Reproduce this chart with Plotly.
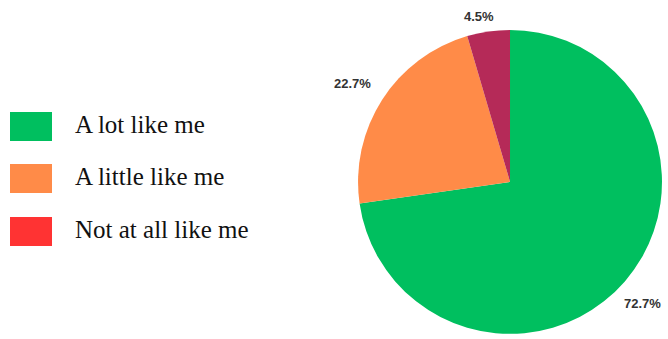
import math
import plotly.graph_objects as go

# Survey responses
categories = ["A lot like me", "A little like me", "Not at all like me"]
counts = [16, 5, 1]
slice_colors = ["#00BF5F", "#FF8B48", "#B52A58"]
legend_colors = ["#00BF5F", "#FF8B48", "#FF3333"]

W, H = 668, 339
pie_x = [0.536, 0.991]
pie_y = [0.015, 0.912]

fig = go.Figure(
    go.Pie(
        labels=categories,
        values=counts,
        sort=False,
        direction="clockwise",
        rotation=0,
        marker=dict(colors=slice_colors, line=dict(width=0)),
        textinfo="none",
        showlegend=False,
        domain=dict(x=pie_x, y=pie_y),
        hoverinfo="label+percent",
    )
)

# Percentage labels placed outside each slice, at its mid-angle
cx = (pie_x[0] + pie_x[1]) / 2 * W
cy = (1 - (pie_y[0] + pie_y[1]) / 2) * H
radius = min((pie_x[1] - pie_x[0]) * W, (pie_y[1] - pie_y[0]) * H) / 2
label_dist = [1.22, 1.2, 1.1]
label_shift = [-8, -4, -7]  # small horizontal nudges in px
total = sum(counts)
cum = 0
for i, v in enumerate(counts):
    mid = (cum + v / 2) / total * 2 * math.pi
    cum += v
    px = cx + radius * label_dist[i] * math.sin(mid) + label_shift[i]
    py = cy - radius * label_dist[i] * math.cos(mid)
    fig.add_annotation(
        xref="paper", yref="paper",
        x=px / W, y=1 - py / H,
        xanchor="center", yanchor="middle",
        text=f"<b>{v / total * 100:.1f}%</b>", showarrow=False,
        font=dict(family="Liberation Sans", size=13, color="#333333"),
    )

# Legend drawn as swatches with serif labels
swatch_top = [112, 164, 217]
for i, (name, col) in enumerate(zip(categories, legend_colors)):
    y0 = swatch_top[i]
    fig.add_shape(
        type="rect", xref="paper", yref="paper",
        x0=10 / W, x1=52 / W,
        y0=1 - (y0 + 29) / H, y1=1 - y0 / H,
        fillcolor=col, line=dict(width=0),
    )
    fig.add_annotation(
        xref="paper", yref="paper",
        x=73 / W, y=1 - (y0 + 12) / H,
        xanchor="left", yanchor="middle",
        text=name, showarrow=False,
        font=dict(family="Liberation Serif", size=25, color="#111111"),
    )

fig.update_layout(
    width=W, height=H,
    margin=dict(l=0, r=0, t=0, b=0),
    paper_bgcolor="white",
    plot_bgcolor="white",
)

fig.write_html("out.html")
